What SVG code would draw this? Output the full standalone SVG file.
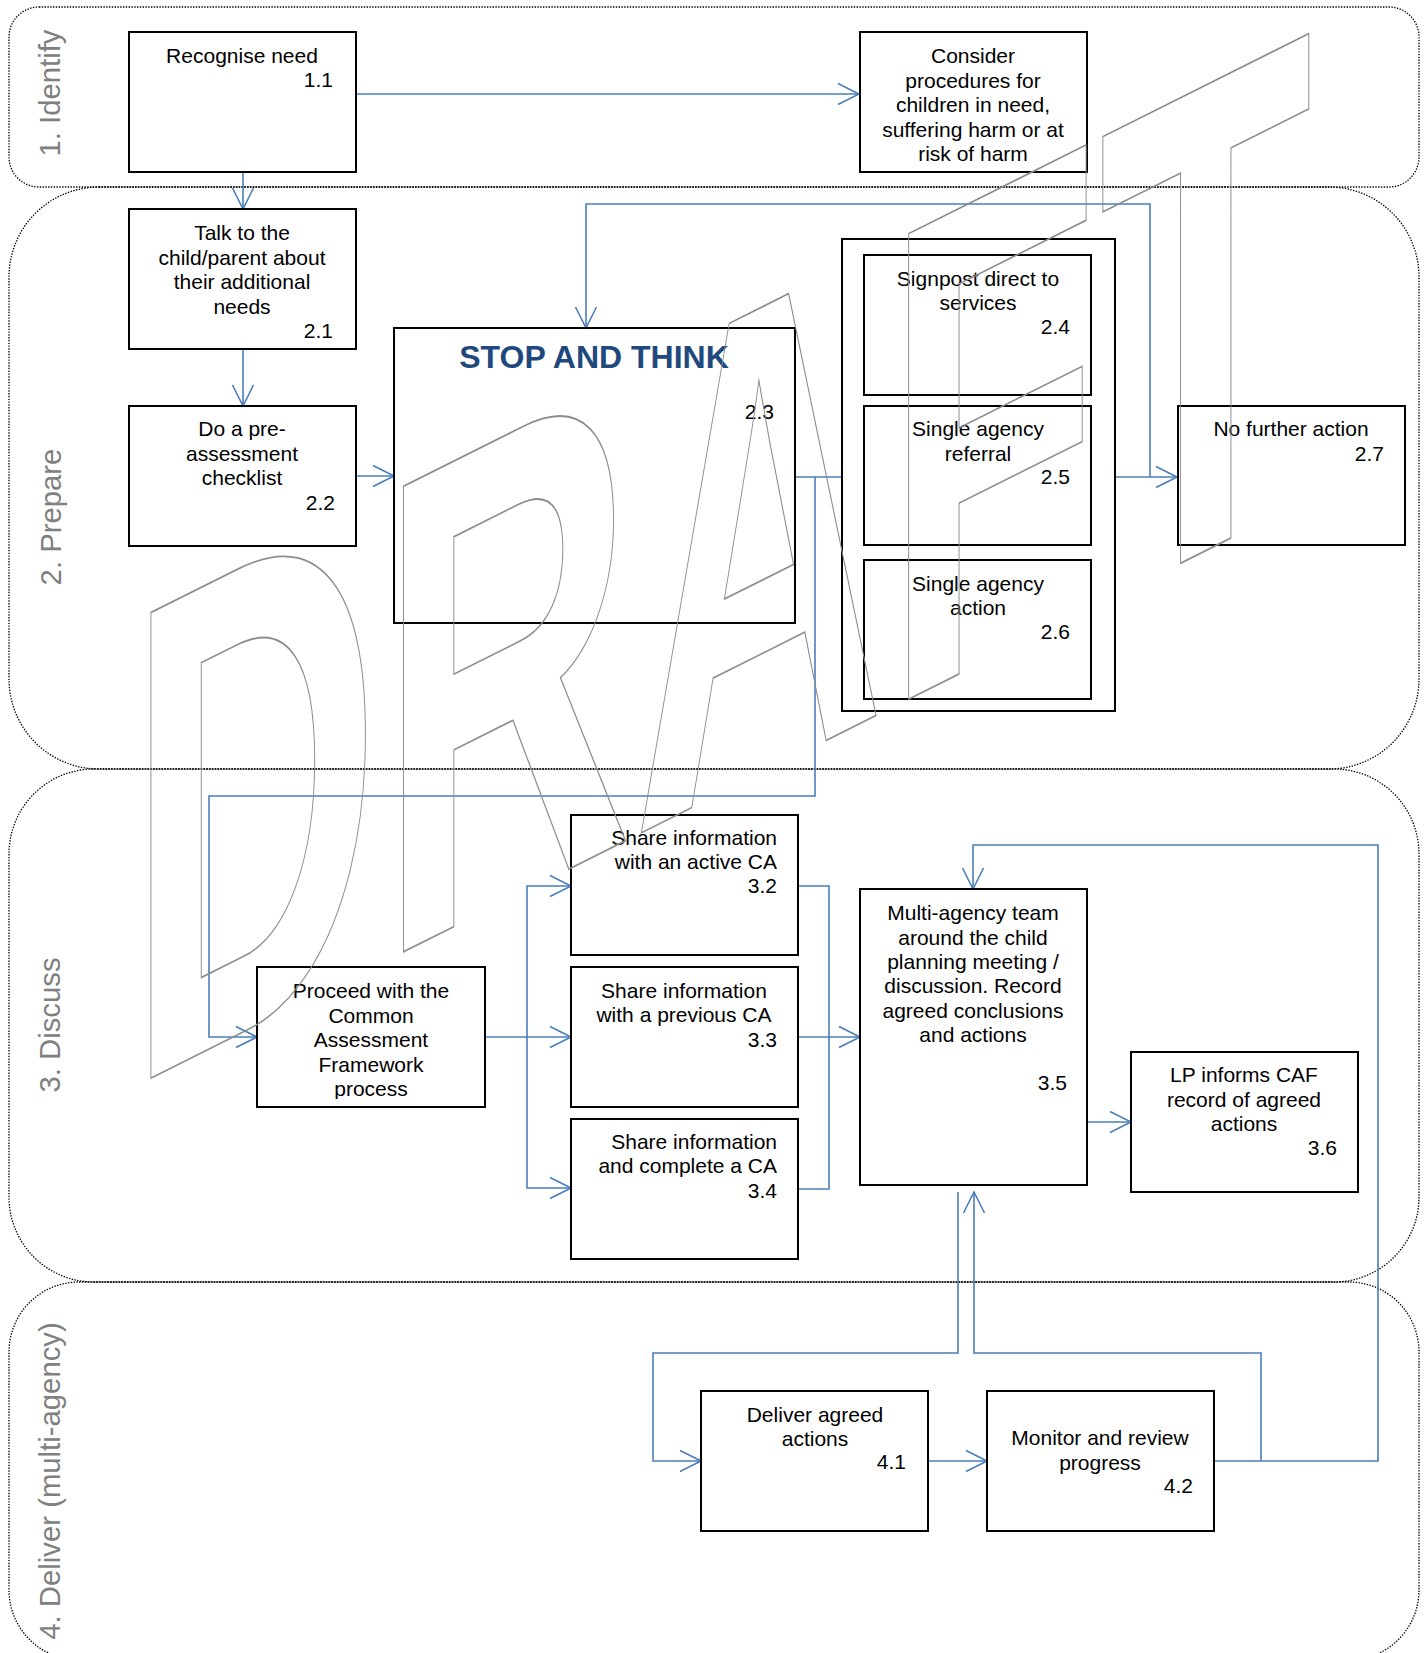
<svg xmlns="http://www.w3.org/2000/svg" width="1428" height="1653" viewBox="0 0 1428 1653">
<style>
.lane{fill:none;stroke:#000;stroke-width:1.3;stroke-dasharray:1.4 1.4}
.ll{font-family:"Liberation Sans",Arial,sans-serif;font-size:29.3px;fill:#808080;text-anchor:middle}
.box{fill:#fff;stroke:#000;stroke-width:2}
.t{font-family:"Liberation Sans",Arial,sans-serif;font-size:21px;fill:#000;text-anchor:middle}
.e{text-anchor:end}
.conn{fill:none;stroke:#4A7EBB;stroke-width:1.6}
.arr{marker-end:url(#ah)}
.wm{font-family:"Liberation Sans",Arial,sans-serif;font-weight:bold;font-size:655px;fill:none;stroke:#8c8c8c;stroke-width:1.5}
</style>
<defs>
<marker id="ah" markerUnits="userSpaceOnUse" markerWidth="26" markerHeight="24" viewBox="-24 -12 26 24" refX="0" refY="0" orient="auto" overflow="visible">
<path d="M-21,-10.5 L0,0 L-21,10.5" fill="none" stroke="#4A7EBB" stroke-width="1.6"/>
</marker>
<clipPath id="clipProc"><rect x="257" y="967" width="228" height="132"/></clipPath>
</defs>

<g id="lanes">
<g id="lane1"><rect class="lane" x="9" y="7" width="1410" height="180" rx="30" ry="30"/><text class="ll" transform="translate(60,93) rotate(-90)">1. Identify</text></g>
<g id="lane2"><rect class="lane" x="9" y="187" width="1410" height="582" rx="90" ry="90"/><text class="ll" transform="translate(61,517) rotate(-90)">2. Prepare</text></g>
<g id="lane3"><rect class="lane" x="9" y="769" width="1410" height="513" rx="85" ry="85"/><text class="ll" transform="translate(60,1025) rotate(-90)">3. Discuss</text></g>
<g id="lane4"><rect class="lane" x="9" y="1282" width="1410" height="378" rx="70" ry="70"/><text class="ll" transform="translate(60,1481) rotate(-90)">4. Deliver (multi-agency)</text></g>
</g>

<g id="connectors">
<path class="conn arr" d="M356,94 H859"/>
<path class="conn arr" d="M243,172 V209"/>
<path class="conn arr" d="M243,349 V406"/>
<path class="conn arr" d="M356,476 H394"/>
<path class="conn arr" d="M795,477 H864"/>
<path class="conn arr" d="M815,477 V796 H209 V1037 H257"/>
<path class="conn arr" d="M1115,477 H1177"/>
<path class="conn arr" d="M1150,477 V204 H586 V328"/>
<path class="conn arr" d="M485,1037 H571"/>
<path class="conn arr" d="M527,1037 V886 H571"/>
<path class="conn arr" d="M527,1037 V1188 H571"/>
<path class="conn" d="M798,886 H829 V1189 H798"/>
<path class="conn arr" d="M798,1037 H860"/>
<path class="conn arr" d="M1087,1122 H1131"/>
<path class="conn arr" d="M1214,1461 H1378 V845 H973 V889"/>
<path class="conn arr" d="M1261,1461 V1353 H974 V1192"/>
<path class="conn arr" d="M958,1192 V1353 H653 V1461 H701"/>
<path class="conn arr" d="M928,1461 H987"/>
</g>

<g id="n1_1"><rect class="box" x="129" y="32" width="227" height="140"/>
<text class="t"><tspan x="242" y="63">Recognise need</tspan></text><text class="t e" x="333" y="87">1.1</text></g>

<g id="n_consider"><rect class="box" x="860" y="32" width="227" height="140"/>
<text class="t"><tspan x="973" y="63">Consider</tspan><tspan x="973" y="87.5">procedures for</tspan><tspan x="973" y="112">children in need,</tspan><tspan x="973" y="136.5">suffering harm or at</tspan><tspan x="973" y="161">risk of harm</tspan></text></g>

<g id="n2_1"><rect class="box" x="129" y="209" width="227" height="140"/>
<text class="t"><tspan x="242" y="240">Talk to the</tspan><tspan x="242" y="265">child/parent about</tspan><tspan x="242" y="289">their additional</tspan><tspan x="242" y="314">needs</tspan></text><text class="t e" x="333" y="338">2.1</text></g>

<g id="n2_2"><rect class="box" x="129" y="406" width="227" height="140"/>
<text class="t"><tspan x="242" y="436">Do a pre-</tspan><tspan x="242" y="461">assessment</tspan><tspan x="242" y="485">checklist</tspan></text><text class="t e" x="335" y="510">2.2</text></g>

<g id="n2_3"><rect class="box" x="394" y="328" width="401" height="295"/>
<text x="594" y="368" text-anchor="middle" font-family="Liberation Sans, Arial, sans-serif" font-weight="bold" font-size="32" fill="#1F497D">STOP AND THINK</text>
<text class="t e" x="774" y="419">2.3</text></g>

<g id="n_group"><rect class="box" x="842" y="239" width="273" height="472"/></g>

<g id="n2_4"><rect class="box" x="864" y="255" width="227" height="140"/>
<text class="t"><tspan x="978" y="286">Signpost direct to</tspan><tspan x="978" y="310">services</tspan></text><text class="t e" x="1070" y="334">2.4</text></g>

<g id="n2_5"><rect class="box" x="864" y="406" width="227" height="139"/>
<text class="t"><tspan x="978" y="436">Single agency</tspan><tspan x="978" y="460.5">referral</tspan></text><text class="t e" x="1070" y="484">2.5</text></g>

<g id="n2_6"><rect class="box" x="864" y="560" width="227" height="139"/>
<text class="t"><tspan x="978" y="591">Single agency</tspan><tspan x="978" y="614.5">action</tspan></text><text class="t e" x="1070" y="638.5">2.6</text></g>

<g id="n2_7"><rect class="box" x="1178" y="406" width="227" height="139"/>
<text class="t"><tspan x="1291" y="435.5">No further action</tspan></text><text class="t e" x="1384" y="460.5">2.7</text></g>

<g id="n3_1"><rect class="box" x="257" y="967" width="228" height="140"/>
<text class="t" clip-path="url(#clipProc)"><tspan x="371" y="998">Proceed with the</tspan><tspan x="371" y="1022.5">Common</tspan><tspan x="371" y="1047">Assessment</tspan><tspan x="371" y="1071.5">Framework</tspan><tspan x="371" y="1096">process</tspan></text></g>

<g id="n3_2"><rect class="box" x="571" y="815" width="227" height="140"/>
<text class="t e"><tspan x="777" y="845">Share information</tspan><tspan x="777" y="869">with an active CA</tspan><tspan x="777" y="893">3.2</tspan></text></g>

<g id="n3_3"><rect class="box" x="571" y="967" width="227" height="140"/>
<text class="t"><tspan x="684" y="998">Share information</tspan><tspan x="684" y="1022">with a previous CA</tspan></text><text class="t e" x="777" y="1047">3.3</text></g>

<g id="n3_4"><rect class="box" x="571" y="1119" width="227" height="140"/>
<text class="t e"><tspan x="777" y="1149">Share information</tspan><tspan x="777" y="1173">and complete a CA</tspan><tspan x="777" y="1198">3.4</tspan></text></g>

<g id="n3_5"><rect class="box" x="860" y="889" width="227" height="296"/>
<text class="t"><tspan x="973" y="920">Multi-agency team</tspan><tspan x="973" y="944.5">around the child</tspan><tspan x="973" y="969">planning meeting /</tspan><tspan x="973" y="993">discussion. Record</tspan><tspan x="973" y="1017.5">agreed conclusions</tspan><tspan x="973" y="1042">and actions</tspan></text><text class="t e" x="1067" y="1090">3.5</text></g>

<g id="n3_6"><rect class="box" x="1131" y="1052" width="227" height="140"/>
<text class="t"><tspan x="1244" y="1082">LP informs CAF</tspan><tspan x="1244" y="1107">record of agreed</tspan><tspan x="1244" y="1131">actions</tspan></text><text class="t e" x="1337" y="1155">3.6</text></g>

<g id="n4_1"><rect class="box" x="701" y="1391" width="227" height="140"/>
<text class="t"><tspan x="815" y="1422">Deliver agreed</tspan><tspan x="815" y="1445.5">actions</tspan></text><text class="t e" x="906" y="1469">4.1</text></g>

<g id="n4_2"><rect class="box" x="987" y="1391" width="227" height="140"/>
<text class="t"><tspan x="1100" y="1445">Monitor and review</tspan><tspan x="1100" y="1470">progress</tspan></text><text class="t e" x="1193" y="1493">4.2</text></g>

<g id="watermark">
<text class="wm" transform="matrix(0.534,-0.267,0,1.033,127.5,1089.75)" x="0" y="0" vector-effect="non-scaling-stroke">DRAFT</text>
</g>
</svg>
